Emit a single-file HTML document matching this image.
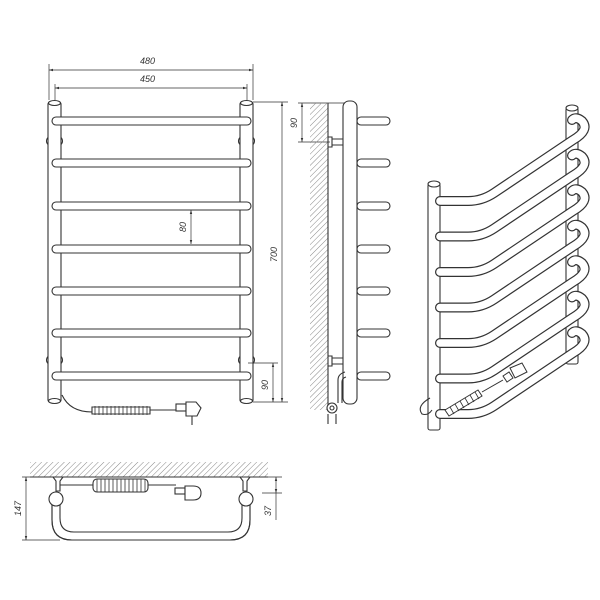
<!DOCTYPE html>
<html><head><meta charset="utf-8"><style>html,body{margin:0;padding:0;background:#fff}svg{display:block}text{font-family:"Liberation Sans",sans-serif;font-size:9px;font-style:italic;fill:#333}</style></head><body>
<svg width="600" height="600" viewBox="0 0 600 600" xmlns="http://www.w3.org/2000/svg">
<defs>
<pattern id="h" width="4" height="4" patternUnits="userSpaceOnUse" patternTransform="rotate(45)"><line x1="0" y1="0" x2="0" y2="4" stroke="#888" stroke-width="1"/></pattern>
<marker id="a" viewBox="0 0 10 10" refX="10" refY="5" markerWidth="6" markerHeight="6" orient="auto-start-reverse"><path d="M0,2 L10,5 L0,8 z" fill="#333"/></marker>
</defs>
<g stroke="#333" stroke-width="1.1" fill="#fff">
<!-- FRONT VIEW -->
<ellipse cx="54.5" cy="141" rx="8" ry="6"/><ellipse cx="246.5" cy="141" rx="8" ry="6"/>
<ellipse cx="54.5" cy="360" rx="8" ry="6"/><ellipse cx="246.5" cy="360" rx="8" ry="6"/>
<rect x="48" y="102" width="13" height="300" rx="2"/>
<rect x="240" y="102" width="13" height="300" rx="2"/>
<ellipse cx="54.5" cy="103" rx="6" ry="2.5"/><ellipse cx="246.5" cy="103" rx="6" ry="2.5"/>
<ellipse cx="54.5" cy="401" rx="6" ry="2.5"/><ellipse cx="246.5" cy="401" rx="6" ry="2.5"/>
<rect x="52" y="117" width="199" height="8" rx="4"/>
<rect x="52" y="159" width="199" height="8" rx="4"/>
<rect x="52" y="202" width="199" height="8" rx="4"/>
<rect x="52" y="245" width="199" height="8" rx="4"/>
<rect x="52" y="287" width="199" height="8" rx="4"/>
<rect x="52" y="329" width="199" height="8" rx="4"/>
<rect x="52" y="372" width="199" height="8" rx="4"/>
<!-- cable -->
<path d="M62 395 Q70 412 92 412" fill="none"/>
<path d="M92 407 h58 v7 h-58 z" fill="none"/>
<path d="M95 406 v9 M99 406 v9 M103 406 v9 M107 406 v9 M111 406 v9 M115 406 v9 M119 406 v9 M123 406 v9 M127 406 v9 M131 406 v9 M135 406 v9 M139 406 v9 M143 406 v9 M147 406 v9" fill="none" stroke-width=".8"/>
<path d="M150 410 H176" fill="none"/>
<rect x="176" y="404" width="10" height="7"/>
<path d="M186 402 h10 l5 6 l-4 8 h-11 z"/>
<path d="M192 416 v9" fill="none"/>
<!-- dims front -->
<g fill="none" stroke-width=".7">
<path d="M49 100 V64 M253 100 V64 M55 100 V84 M247 100 V84"/>
<path d="M49 70 H253" marker-start="url(#a)" marker-end="url(#a)"/>
<path d="M55 88 H247" marker-start="url(#a)" marker-end="url(#a)"/>
<path d="M253 102 H288 M253 402 H288 M248 363 H278"/>
<path d="M282 102 V402" marker-start="url(#a)" marker-end="url(#a)"/>
<path d="M273 363 V402" marker-start="url(#a)" marker-end="url(#a)"/>
<path d="M191 210 V244" marker-start="url(#a)" marker-end="url(#a)"/>
<path d="M302 103 V142" marker-start="url(#a)" marker-end="url(#a)"/>
<path d="M298 103 H345 M298 142 H330"/>
</g>
<!-- SIDE VIEW -->
<rect x="310" y="103" width="18" height="307" fill="url(#h)" stroke="none"/>
<path d="M328 103 V410" fill="none"/>
<rect x="343" y="101" width="14" height="303" rx="6"/>
<path d="M328 137 h4 v10 h-4 M332 139 h11 M332 145 h11" fill="none"/>
<path d="M328 356 h4 v10 h-4 M332 358 h11 M332 364 h11" fill="none"/>
<path d="M338 403 V380 q0 -6 7 -8 M342 403 V382 q0 -4 4 -5" fill="none"/>
<circle cx="332" cy="408" r="5"/><circle cx="332" cy="408" r="2"/>
<path d="M328 414 v10 M336 414 v10" fill="none"/>
<rect x="357" y="117" width="33" height="8" rx="4"/>
<rect x="357" y="159" width="33" height="8" rx="4"/>
<rect x="357" y="202" width="33" height="8" rx="4"/>
<rect x="357" y="245" width="33" height="8" rx="4"/>
<rect x="357" y="287" width="33" height="8" rx="4"/>
<rect x="357" y="329" width="33" height="8" rx="4"/>
<rect x="357" y="372" width="33" height="8" rx="4"/>
<!-- TOP VIEW -->
<rect x="30" y="462" width="238" height="15" fill="url(#h)" stroke="none"/>
<path d="M30 477 H268" fill="none"/>
<path d="M52 500 V520 Q52 540 72 540 H230 Q250 540 250 520 V500 M60 500 V518 Q60 532 74 532 H228 Q242 532 242 518 V500"/>
<path d="M52 500 V520 Q52 540 72 540 H230 Q250 540 250 520 V500" fill="none"/>
<path d="M53 477 h10 l-3 4 v10 h-4 v-10 z M240 477 h10 l-3 4 v10 h-4 v-10 z"/>
<circle cx="56" cy="499" r="7"/><circle cx="246" cy="499" r="7"/>
<path d="M60 485 H176" fill="none"/>
<rect x="93" y="479" width="55" height="13" rx="4"/>
<path d="M97 479 v13 M101 479 v13 M105 479 v13 M109 479 v13 M113 479 v13 M117 479 v13 M121 479 v13 M125 479 v13 M129 479 v13 M133 479 v13 M137 479 v13 M141 479 v13 M145 479 v13" fill="none" stroke-width=".8"/>
<rect x="175" y="488" width="10" height="6"/>
<path d="M185 486 h8 q8 0 8 7 q0 7 -8 7 h-8 z"/>
<g fill="none" stroke-width=".7">
<path d="M22 477 H50 M22 540 H60 M262 493 H282 M268 477 H282"/>
<path d="M26 477 V540" marker-start="url(#a)" marker-end="url(#a)"/>
<path d="M276 477 V493" marker-start="url(#a)" marker-end="url(#a)"/>
<path d="M276 493 V520"/>
</g>
<!-- 3D VIEW -->
<rect x="566" y="108" width="12" height="256" rx="2"/>
<ellipse cx="572" cy="108" rx="6" ry="3"/>
<rect x="428" y="184" width="12" height="246" rx="2"/>
<ellipse cx="434" cy="184" rx="6" ry="3"/>
<path d="M430 398 q-14 8 -8 16 q6 2 10 -4" fill="none"/>
</g>
<g fill="none" stroke-linecap="round">
<g id="r">
<path d="M440 201 H468 Q482 201 494 193 L573 140 Q590 130 582 121 Q576 116 572 120" stroke="#333" stroke-width="10"/>
<path d="M440 201 H468 Q482 201 494 193 L573 140 Q590 130 582 121 Q576 116 572 120" stroke="#fff" stroke-width="7.6"/>
</g>
<use href="#r" y="35.5"/><use href="#r" y="71"/><use href="#r" y="106.5"/><use href="#r" y="142"/><use href="#r" y="177.5"/><use href="#r" y="213"/>
</g>
<g stroke="#333" stroke-width="1" fill="#fff">
<path d="M445 410 L478 390 L482 396 L449 416 z"/>
<path d="M450 407 l4 7 M455 404 l4 7 M460 401 l4 7 M465 398 l4 7 M470 395 l4 7 M475 392 l4 7" fill="none" stroke-width=".8"/>
<path d="M482 392 L503 380" fill="none"/>
<path d="M503 376 l6 -4 l4 6 l-6 4 z"/>
<path d="M510 368 l12 -5 l5 9 l-12 6 z"/>
</g>
<text x="140" y="64">480</text>
<text x="140" y="82">450</text>
<text transform="translate(186,232) rotate(-90)">80</text>
<text transform="translate(277,262) rotate(-90)">700</text>
<text transform="translate(268,390) rotate(-90)">90</text>
<text transform="translate(297,128) rotate(-90)">90</text>
<text transform="translate(21,516) rotate(-90)">147</text>
<text transform="translate(271,516) rotate(-90)">37</text>
</svg>
</body></html>
